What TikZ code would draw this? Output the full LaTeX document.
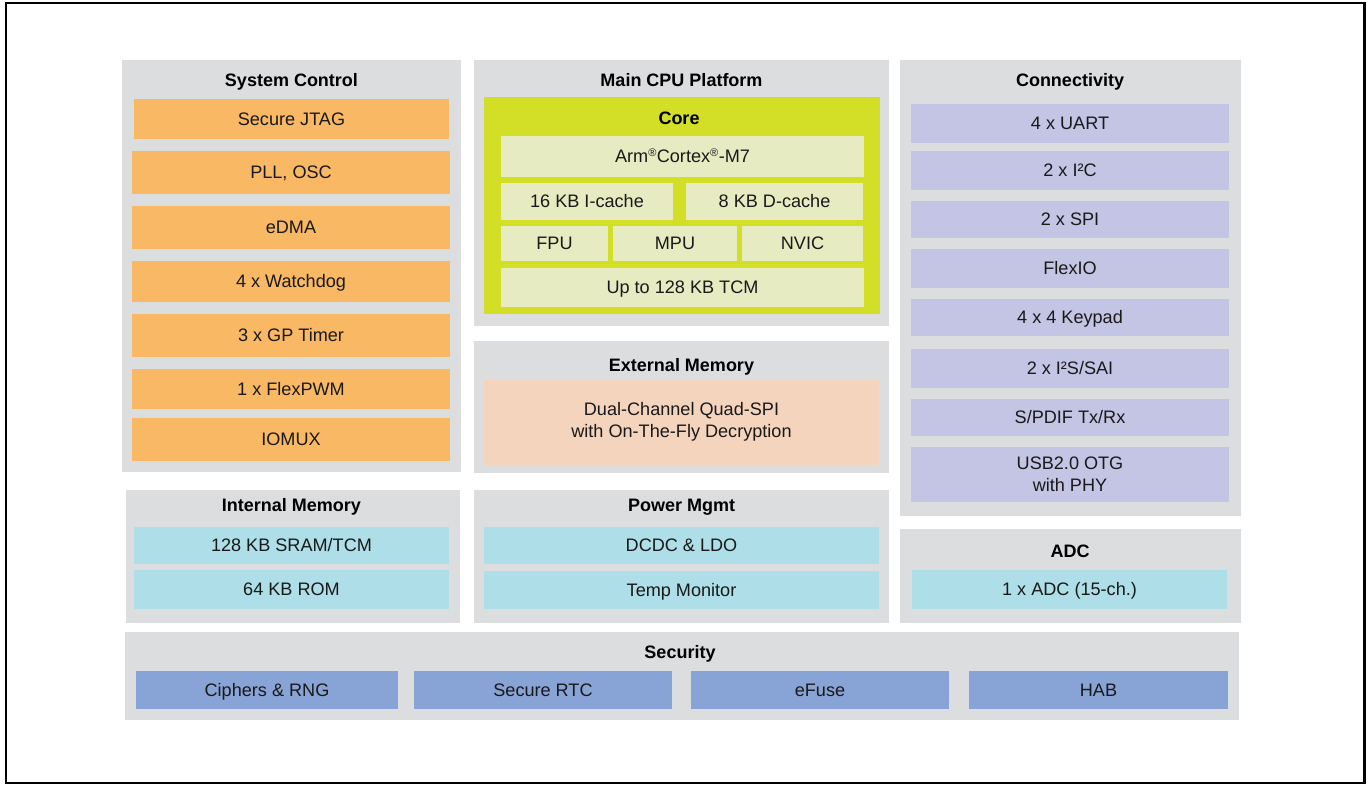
\documentclass[tikz,border=0pt]{standalone}
\usepackage{fontspec}
\setmainfont{Liberation Sans}
\definecolor{panelgray}{HTML}{DCDDDF}
\definecolor{sysorange}{HTML}{F9B863}
\definecolor{coregreen}{HTML}{D3DE26}
\definecolor{corecream}{HTML}{E7EBC1}
\definecolor{extpeach}{HTML}{F5D4BE}
\definecolor{conlav}{HTML}{C4C4E4}
\definecolor{memcyan}{HTML}{AEDEE8}
\definecolor{secblue}{HTML}{88A3D5}
\newcommand\blk[7]{\node[blockbase,#6,minimum width={(#4)-(#2)},minimum height={(#5)-(#3)}] (#1) at ({((#2)+(#4))/2},{((#3)+(#5))/2}) {#7};}
\begin{document}
\begin{tikzpicture}[x=1pt,y=-1pt,
  blockbase/.style={inner sep=0pt,outer sep=0pt,draw=none,align=center,
    font=\fontsize{18.1}{21.8}\selectfont,text=black!90},
  one/.style={text height=12.4pt,text depth=0pt},
  panel/.style={fill=panelgray},
  sysbox/.style={fill=sysorange,one},
  corebox/.style={fill=coregreen},
  creambox/.style={fill=corecream,one},
  peachbox/.style={fill=extpeach},
  lavbox/.style={fill=conlav,one},
  lavtwo/.style={fill=conlav},
  cyanbox/.style={fill=memcyan,one},
  secbox/.style={fill=secblue,one},
  ttl/.style={inner sep=0pt,font=\fontsize{18}{21}\selectfont\bfseries,text=black,
    text height=13pt,text depth=0pt}]
\useasboundingbox (0,0) rectangle (1367,785);
\draw[line width=2.2pt,black] (6,3) rectangle (1364.5,783);
% System Control
\blk{sysp}{122}{60}{461}{472}{panel}{}
\node[ttl] (syst) at (291.5,80) {System Control};
\blk{jtag}{134}{99}{449}{139}{sysbox}{Secure JTAG}
\blk{pll}{132}{151}{450}{194}{sysbox}{PLL, OSC}
\blk{edma}{132}{206}{450}{249}{sysbox}{eDMA}
\blk{wdog}{132}{261}{450}{302}{sysbox}{4 x Watchdog}
\blk{gpt}{132}{314}{450}{357}{sysbox}{3 x GP Timer}
\blk{pwm}{132}{369}{450}{409}{sysbox}{1 x FlexPWM}
\blk{iomux}{132}{418}{450}{461}{sysbox}{IOMUX}
% Main CPU Platform
\blk{cpup}{474}{60}{889}{326}{panel}{}
\node[ttl] (cput) at (681.5,80) {Main CPU Platform};
\blk{core}{484}{97}{880}{314}{corebox}{}
\node[ttl] (coret) at (679,118) {Core};
\blk{arm}{501}{136}{864}{177}{creambox}{Arm\textsuperscript{\fontsize{11}{11}\selectfont ®}Cortex\textsuperscript{\fontsize{11}{11}\selectfont ®}-M7}
\blk{icache}{501}{183}{673}{220}{creambox}{16 KB I-cache}
\blk{dcache}{686}{183}{863}{220}{creambox}{8 KB D-cache}
\blk{fpu}{501}{226}{608}{261}{creambox}{FPU}
\blk{mpu}{613}{226}{737}{261}{creambox}{MPU}
\blk{nvic}{742}{226}{863}{261}{creambox}{NVIC}
\blk{tcm}{501}{268}{864}{307}{creambox}{Up to 128 KB TCM}
% External Memory
\blk{extp}{474}{341}{889}{473}{panel}{}
\node[ttl] (extt) at (681.5,365) {External Memory};
\blk{qspi}{484}{379}{879}{465}{peachbox}{Dual-Channel Quad-SPI\\with On-The-Fly Decryption}
% Power Mgmt
\blk{pwrp}{474}{490}{889}{623}{panel}{}
\node[ttl] (pwrt) at (681.5,505) {Power Mgmt};
\blk{dcdc}{484}{527}{879}{564}{cyanbox}{DCDC \& LDO}
\blk{temp}{484}{571}{879}{609}{cyanbox}{Temp Monitor}
% Internal Memory
\blk{intp}{126}{490}{460}{623}{panel}{}
\node[ttl] (intt) at (291.5,505) {Internal Memory};
\blk{sram}{134}{527}{449}{564}{cyanbox}{128 KB SRAM/TCM}
\blk{rom}{134}{570}{449}{609}{cyanbox}{64 KB ROM}
% Connectivity
\blk{conp}{900}{60}{1241}{516}{panel}{}
\node[ttl] (cont) at (1070,80) {Connectivity};
\blk{uart}{911}{104}{1229}{143}{lavbox}{4 x UART}
\blk{iic}{911}{151}{1229}{190}{lavbox}{2 x I²C}
\blk{spi}{911}{201}{1229}{238}{lavbox}{2 x SPI}
\blk{flexio}{911}{249}{1229}{288}{lavbox}{FlexIO}
\blk{keypad}{911}{299}{1229}{336}{lavbox}{4 x 4 Keypad}
\blk{iis}{911}{349}{1229}{388}{lavbox}{2 x I²S/SAI}
\blk{spdif}{911}{399}{1229}{436}{lavbox}{S/PDIF Tx/Rx}
\blk{usb}{911}{447}{1229}{502}{lavtwo}{USB2.0 OTG\\with PHY}
% ADC
\blk{adcp}{900}{529}{1241}{623}{panel}{}
\node[ttl] (adct) at (1070,551) {ADC};
\blk{adc}{912}{570}{1227}{609}{cyanbox}{1 x ADC (15-ch.)}
% Security
\blk{secp}{125}{632}{1239}{720}{panel}{}
\node[ttl] (sect) at (680,652) {Security};
\blk{ciph}{136}{671}{398}{709}{secbox}{Ciphers \& RNG}
\blk{srtc}{414}{671}{672}{709}{secbox}{Secure RTC}
\blk{efuse}{691}{671}{949}{709}{secbox}{eFuse}
\blk{hab}{969}{671}{1228}{709}{secbox}{HAB}
\end{tikzpicture}
\end{document}
